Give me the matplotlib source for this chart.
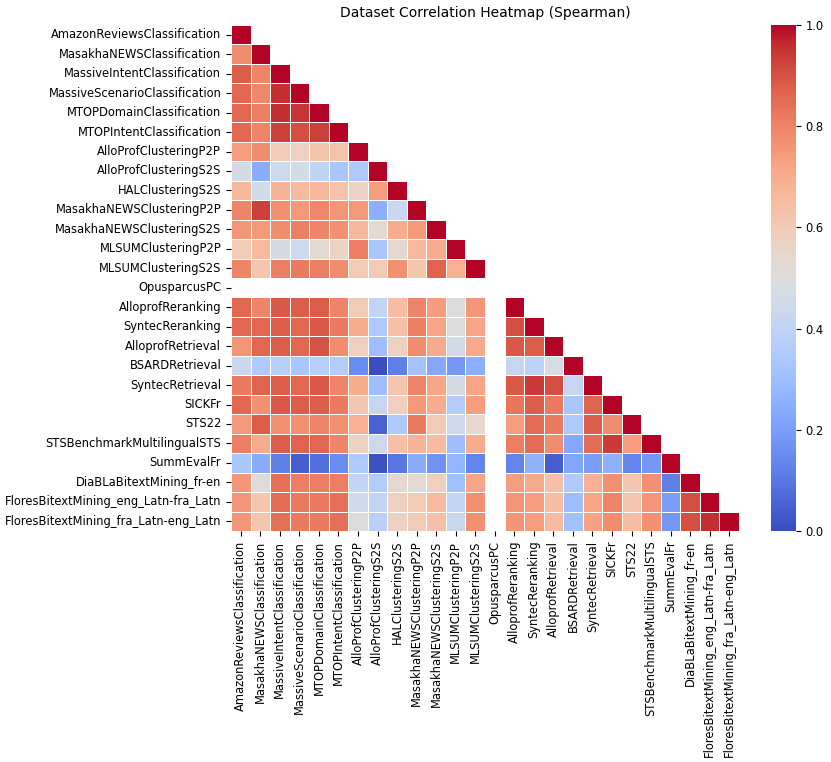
import numpy as np
import pandas as pd
import seaborn as sns
import matplotlib
matplotlib.use("Agg")
import matplotlib.pyplot as plt

datasets = [
    "AmazonReviewsClassification", "MasakhaNEWSClassification", "MassiveIntentClassification",
    "MassiveScenarioClassification", "MTOPDomainClassification", "MTOPIntentClassification",
    "AlloProfClusteringP2P", "AlloProfClusteringS2S", "HALClusteringS2S",
    "MasakhaNEWSClusteringP2P", "MasakhaNEWSClusteringS2S", "MLSUMClusteringP2P",
    "MLSUMClusteringS2S", "OpusparcusPC", "AlloprofReranking", "SyntecReranking",
    "AlloprofRetrieval", "BSARDRetrieval", "SyntecRetrieval", "SICKFr", "STS22",
    "STSBenchmarkMultilingualSTS", "SummEvalFr", "DiaBLaBitextMining_fr-en",
    "FloresBitextMining_eng_Latn-fra_Latn", "FloresBitextMining_fra_Latn-eng_Latn",
]

nan = np.nan
# lower triangle of the spearman matrix, row by row (diagonal left out)
lower = [
    [],
    [0.78],
    [0.88, 0.80],
    [0.86, 0.79, 0.96],
    [0.86, 0.81, 0.96, 0.95],
    [0.86, 0.80, 0.93, 0.91, 0.93],
    [0.74, 0.78, 0.60, 0.58, 0.63, 0.63],
    [0.47, 0.24, 0.44, 0.46, 0.40, 0.33, 0.34],
    [0.67, 0.46, 0.68, 0.66, 0.67, 0.63, 0.56, 0.74],
    [0.80, 0.93, 0.77, 0.75, 0.79, 0.76, 0.75, 0.25, 0.43],
    [0.76, 0.75, 0.78, 0.81, 0.80, 0.77, 0.67, 0.53, 0.70, 0.75],
    [0.60, 0.66, 0.47, 0.44, 0.53, 0.56, 0.81, 0.33, 0.53, 0.66, 0.70],
    [0.80, 0.62, 0.81, 0.82, 0.81, 0.78, 0.60, 0.60, 0.77, 0.62, 0.87, 0.69],
    [nan] * 13,
    [0.86, 0.80, 0.89, 0.88, 0.88, 0.80, 0.60, 0.41, 0.65, 0.80, 0.74, 0.50, 0.76, nan],
    [0.86, 0.86, 0.88, 0.86, 0.89, 0.82, 0.70, 0.34, 0.64, 0.81, 0.72, 0.50, 0.72, nan, 0.91],
    [0.76, 0.86, 0.88, 0.86, 0.90, 0.78, 0.58, 0.30, 0.57, 0.78, 0.71, 0.46, 0.71, nan, 0.89, 0.88],
    [0.43, 0.35, 0.37, 0.33, 0.37, 0.36, 0.15, 0.00, 0.12, 0.32, 0.23, 0.18, 0.25, nan, 0.42, 0.39, 0.48],
    [0.82, 0.87, 0.88, 0.86, 0.89, 0.80, 0.70, 0.30, 0.62, 0.80, 0.72, 0.47, 0.72, nan, 0.89, 0.94, 0.91, 0.42],
    [0.86, 0.77, 0.89, 0.88, 0.88, 0.82, 0.62, 0.42, 0.58, 0.75, 0.70, 0.36, 0.74, nan, 0.83, 0.88, 0.82, 0.33, 0.87],
    [0.75, 0.88, 0.77, 0.77, 0.80, 0.77, 0.69, 0.05, 0.35, 0.82, 0.60, 0.44, 0.54, nan, 0.74, 0.85, 0.82, 0.35, 0.88, 0.78],
    [0.81, 0.70, 0.88, 0.87, 0.86, 0.80, 0.57, 0.44, 0.64, 0.68, 0.66, 0.30, 0.70, nan, 0.81, 0.85, 0.78, 0.23, 0.85, 0.94, 0.74],
    [0.33, 0.24, 0.12, 0.04, 0.08, 0.15, 0.35, 0.01, 0.10, 0.24, 0.17, 0.27, 0.13, nan, 0.13, 0.26, 0.04, 0.22, 0.20, 0.26, 0.13, 0.18],
    [0.76, 0.51, 0.84, 0.81, 0.81, 0.81, 0.41, 0.36, 0.54, 0.52, 0.58, 0.31, 0.72, nan, 0.74, 0.71, 0.64, 0.35, 0.69, 0.77, 0.62, 0.77, 0.12],
    [0.76, 0.62, 0.85, 0.82, 0.82, 0.84, 0.45, 0.41, 0.58, 0.60, 0.66, 0.41, 0.77, nan, 0.76, 0.74, 0.65, 0.30, 0.72, 0.80, 0.62, 0.76, 0.20, 0.91],
    [0.76, 0.62, 0.84, 0.82, 0.82, 0.84, 0.50, 0.38, 0.57, 0.60, 0.64, 0.43, 0.77, nan, 0.76, 0.74, 0.66, 0.31, 0.73, 0.78, 0.65, 0.77, 0.18, 0.91, 0.96],
]

n = len(datasets)
corr = np.full((n, n), np.nan)
for i, row in enumerate(lower):
    for j, v in enumerate(row):
        corr[i, j] = v
        corr[j, i] = v
    corr[i, i] = 1.0
corr[13, :] = np.nan
corr[:, 13] = np.nan
corr = pd.DataFrame(corr, index=datasets, columns=datasets)

mask = np.triu(np.ones((n, n), dtype=bool), k=1)

fig = plt.figure(figsize=(8.31, 7.62), dpi=100)
ax = fig.add_axes([231 / 831, 231 / 762, 508 / 831, 506 / 762])
cax = fig.add_axes([771 / 831, 231 / 762, 25 / 831, 506 / 762])

sns.heatmap(corr, mask=mask, cmap="coolwarm", linewidths=0.5, linecolor="white",
            ax=ax, cbar_ax=cax, xticklabels=True, yticklabels=True)
ax.set_title("Dataset Correlation Heatmap (Spearman)", fontsize=10)
ax.tick_params(labelsize=8.3)
cax.tick_params(labelsize=8.3)

fig.savefig("out.png", dpi=100)
